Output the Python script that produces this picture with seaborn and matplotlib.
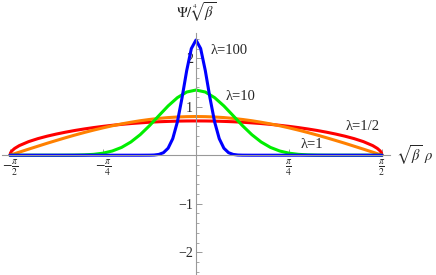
import matplotlib
matplotlib.use("Agg")
import matplotlib.pyplot as plt
from matplotlib.ticker import MultipleLocator, FixedLocator
import seaborn as sns

# x in units of pi (sqrt(beta)*rho / pi)
rho = [-0.5, -0.475, -0.45, -0.425, -0.4, -0.375, -0.35, -0.325, -0.3, -0.275, -0.25,
       -0.225, -0.2, -0.175, -0.15, -0.125, -0.1, -0.075, -0.05, -0.025, 0.0,
       0.025, 0.05, 0.075, 0.1, 0.125, 0.15, 0.175, 0.2, 0.225, 0.25,
       0.275, 0.3, 0.325, 0.35, 0.375, 0.4, 0.425, 0.45, 0.475, 0.5]

psi_l1 = [0.0, 0.063, 0.125, 0.186, 0.247, 0.305, 0.362, 0.417, 0.469, 0.518, 0.564,
          0.607, 0.646, 0.680, 0.711, 0.737, 0.759, 0.776, 0.788, 0.795, 0.798,
          0.795, 0.788, 0.776, 0.759, 0.737, 0.711, 0.680, 0.646, 0.607, 0.564,
          0.518, 0.469, 0.417, 0.362, 0.305, 0.247, 0.186, 0.125, 0.063, 0.0]

psi_l10 = [0.0, 0.0, 0.0, 0.0, 0.0, 0.0, 0.0005, 0.002, 0.007, 0.018, 0.042,
           0.087, 0.161, 0.273, 0.424, 0.609, 0.814, 1.016, 1.187, 1.303, 1.344,
           1.303, 1.187, 1.016, 0.814, 0.609, 0.424, 0.273, 0.161, 0.087, 0.042,
           0.018, 0.007, 0.002, 0.0005, 0.0, 0.0, 0.0, 0.0, 0.0, 0.0]

rho_half = [-0.5, -0.4985, -0.495, -0.4875, -0.475, -0.45, -0.425, -0.4, -0.375, -0.35,
            -0.325, -0.3, -0.275, -0.25, -0.225, -0.2, -0.175, -0.15, -0.125, -0.1,
            -0.075, -0.05, -0.025, 0.0, 0.025, 0.05, 0.075, 0.1, 0.125, 0.15, 0.175,
            0.2, 0.225, 0.25, 0.275, 0.3, 0.325, 0.35, 0.375, 0.4, 0.425, 0.45,
            0.475, 0.4875, 0.495, 0.4985, 0.5]
psi_half = [0.0, 0.049, 0.089, 0.140, 0.198, 0.280, 0.342, 0.393, 0.437, 0.476,
            0.511, 0.542, 0.570, 0.595, 0.617, 0.636, 0.653, 0.667, 0.680, 0.690,
            0.697, 0.703, 0.706, 0.707, 0.706, 0.703, 0.697, 0.690, 0.680, 0.667, 0.653,
            0.636, 0.617, 0.595, 0.570, 0.542, 0.511, 0.476, 0.437, 0.393, 0.342, 0.280,
            0.198, 0.140, 0.089, 0.049, 0.0]

rho_100 = [-0.5, -0.15, -0.125, -0.1125, -0.1, -0.0875, -0.075, -0.0625, -0.05, -0.0375,
           -0.025, -0.0125, 0.0, 0.0125, 0.025, 0.0375, 0.05, 0.0625, 0.075, 0.0875,
           0.1, 0.1125, 0.125, 0.15, 0.5]
psi_l100 = [0.0, 0.0, 0.001, 0.004, 0.016, 0.052, 0.144, 0.341, 0.688, 1.185,
            1.745, 2.199, 2.375, 2.199, 1.745, 1.185, 0.688, 0.341, 0.144, 0.052,
            0.016, 0.004, 0.001, 0.0, 0.0]

sns.set_style("white")
plt.rcParams['font.family'] = ['Liberation Serif', 'DejaVu Serif']
plt.rcParams['mathtext.fontset'] = 'stix'

fig = plt.figure(figsize=(4.36, 2.75), dpi=100)
ax = fig.add_axes([2 / 436, 0, 388 / 436, 242 / 275])

lw = 2.2
sns.lineplot(x=rho_half, y=psi_half, color='#ff0000', lw=lw, ax=ax, sort=False)
sns.lineplot(x=rho, y=psi_l1, color='#ff8000', lw=lw, ax=ax, sort=False)
sns.lineplot(x=rho, y=psi_l10, color='#00ee00', lw=lw, ax=ax, sort=False)
sns.lineplot(x=rho_100, y=psi_l100, color='#0000ff', lw=lw, ax=ax, sort=False)

ax.set_xlim(-0.5215, 0.5215)
ax.set_ylim(-2.47, 2.52)

for s in ['top', 'right']:
    ax.spines[s].set_visible(False)
ax.spines['left'].set_position(('data', 0))
ax.spines['bottom'].set_position(('data', 0))
for s in ['left', 'bottom']:
    ax.spines[s].set_color('#999999')
    ax.spines[s].set_linewidth(0.8)

ax.xaxis.set_major_locator(FixedLocator([-0.5, -0.25, 0.25, 0.5]))
ax.set_xticklabels([r'$-\frac{\pi}{2}$', r'$-\frac{\pi}{4}$', r'$\frac{\pi}{4}$', r'$\frac{\pi}{2}$'])
ax.yaxis.set_major_locator(FixedLocator([-2, -1, 1, 2]))
ax.set_yticklabels(['\u22122', '\u22121', '1', '2'])
ax.yaxis.set_minor_locator(MultipleLocator(0.2))

ax.tick_params(which='major', direction='in', length=4, width=0.7, color='#999999',
               labelsize=10, pad=2)
ax.tick_params(which='minor', direction='in', length=2.5, width=0.6, color='#999999')
ax.tick_params(axis='y', which='both', left=True)
ax.tick_params(axis='x', which='both', bottom=True)
ax.set_xlabel('')
ax.set_ylabel('')

fs = 10.5
ax.text(0.0, 2.95, r'$\Psi/\,\sqrt[4]{\beta}$', fontsize=fs, ha='center', va='center')
ax.text(0.588, 0.0, r'$\sqrt{\beta}\ \rho$', fontsize=fs, ha='center', va='center', clip_on=False)
ax.text(0.0887, 2.16, 'λ=100', fontsize=fs, ha='center', va='center')
ax.text(0.121, 1.216, 'λ=10', fontsize=fs, ha='center', va='center')
ax.text(0.449, 0.598, 'λ=1/2', fontsize=fs, ha='center', va='center')
ax.text(0.312, 0.227, 'λ=1', fontsize=fs, ha='center', va='center')

fig.savefig('out.png', dpi=100)
